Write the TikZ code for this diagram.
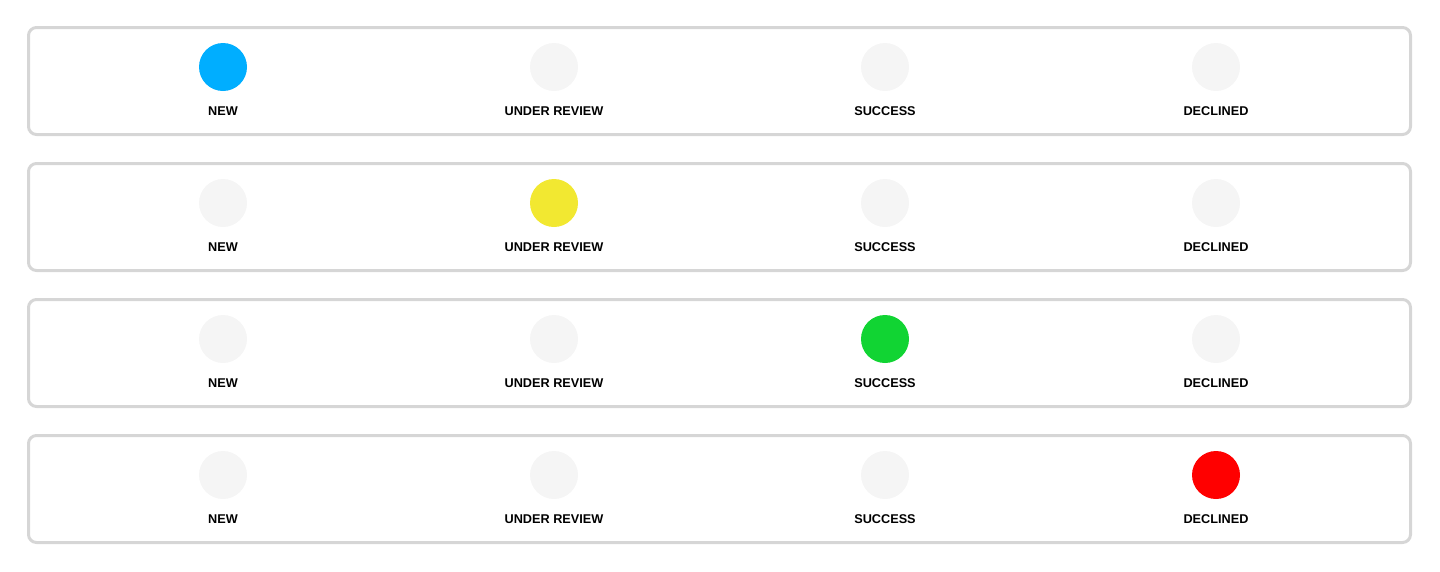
\documentclass[tikz,border=0pt]{standalone}
\usepackage{fontspec}
\setmainfont{Liberation Sans}
\definecolor{framegray}{HTML}{D6D6D6}
\definecolor{dotgray}{HTML}{F5F5F5}
\definecolor{newblue}{HTML}{00AEFF}
\definecolor{reviewyellow}{HTML}{F2E831}
\definecolor{successgreen}{HTML}{11D433}
\definecolor{declinedred}{HTML}{FF0000}
\tikzset{
  panel/.style={draw=framegray, line width=3pt, rounded corners=8pt},
  dot/.style={circle, inner sep=0pt, minimum size=48pt},
  status/.style={font=\fontsize{12.7}{14}\selectfont\bfseries, anchor=base, inner sep=0pt}
}
\begin{document}
\begin{tikzpicture}[x=1pt,y=-1pt]
\useasboundingbox (0,0) rectangle (1440,571);
% one panel per state, the active dot coloured
\foreach \r/\col in {0/newblue,1/reviewyellow,2/successgreen,3/declinedred} {
  \pgfmathsetmacro{\y}{\r*136}
  \draw[panel] (28.5,27.5+\y) rectangle (1410.5,134.5+\y);
  \foreach \lx/\lbl [count=\c from 0] in {223/NEW,554/UNDER REVIEW,885/SUCCESS,1216/DECLINED} {
    \ifnum\c=\r \def\dotcol{\col}\else\def\dotcol{dotgray}\fi
    \node[dot, fill=\dotcol] (dot-\r-\c) at (\lx,67+\y) {};
    \node[status] (lbl-\r-\c) at (\lx,115+\y) {\lbl};
  }
}
\end{tikzpicture}
\end{document}
